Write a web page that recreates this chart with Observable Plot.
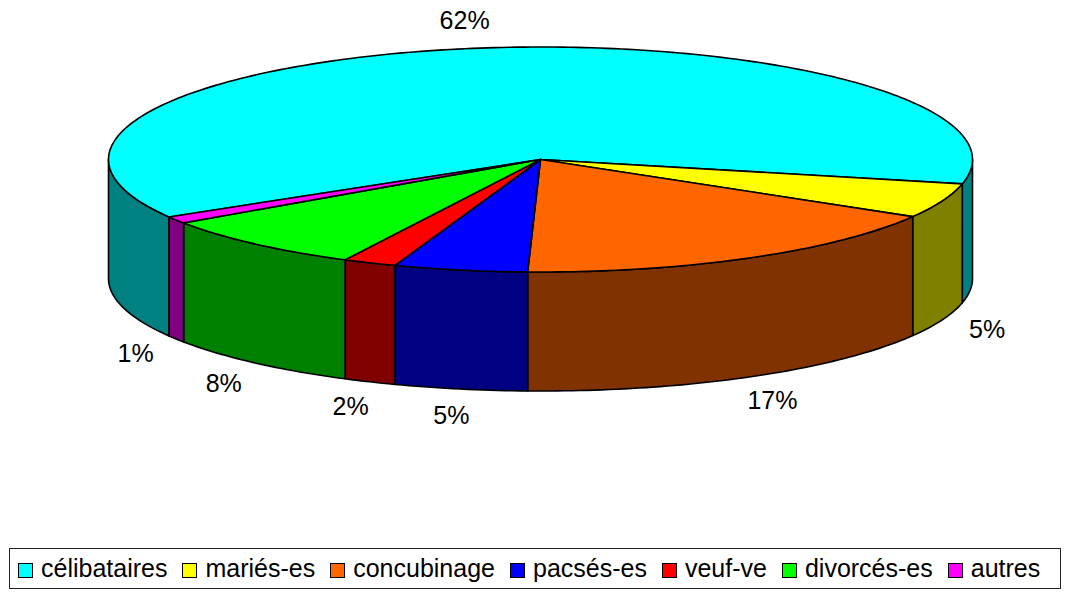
<!DOCTYPE html>
<html>
<head>
<meta charset="utf-8">
<script src="https://cdn.jsdelivr.net/npm/d3@7"></script>
<script src="https://cdn.jsdelivr.net/npm/@observablehq/plot@0.6"></script>
<style>
  html, body { margin: 0; padding: 0; background: #fff; }
  body { width: 1065px; height: 592px; overflow: hidden; font-family: "Liberation Sans", Arial, sans-serif; }
  #chart svg { display: block; }
  #legend {
    position: absolute; left: 9px; top: 548px; width: 1052px; height: 41px;
    border: 1px solid #222; box-sizing: border-box;
    display: flex; align-items: center; padding-left: 8px;
    font-size: 25px; color: #000; white-space: nowrap;
  }
  .item { display: flex; align-items: center; margin-right: 15px; }
  .sw { width: 13px; height: 13px; border: 1px solid #000; margin-right: 8px; margin-top: 3px; }
</style>
</head>
<body>
<div id="chart"></div>
<div id="legend"></div>
<script>
const categories = ["célibataires", "mariés-es", "concubinage", "pacsés-es", "veuf-ve", "divorcés-es", "autres"];
const values = [62, 5, 17, 5, 2, 8, 1];
const labels = ["62%", "5%", "17%", "5%", "2%", "8%", "1%"];
const topColors = ["#00FFFF", "#FFFF00", "#FF6600", "#0000FF", "#FF0000", "#00FF00", "#FF00FF"];
const sideColors = ["#008080", "#808000", "#803300", "#000080", "#800000", "#008000", "#800080"];

// pie geometry (in pixel-sized units relative to the pie centre)
const W = 1065, H = 540;
const CX = 540, CY = 159;
const RX = 432, RY = 112.5, DEPTH = 119;
const START = 149.3; // degrees, clockwise from east on screen
const LRX = 480, LRY = 140;

const total = d3.sum(values);
const rad = d => d * Math.PI / 180;
function arc(a0, a1, dy) {
  const n = Math.max(2, Math.ceil(Math.abs(a1 - a0)));
  const pts = [];
  for (let i = 0; i <= n; i++) {
    const a = rad(a0 + (a1 - a0) * i / n);
    pts.push({x: RX * Math.cos(a), y: RY * Math.sin(a) + dy});
  }
  return pts;
}

const slices = [];
let acc = START;
values.forEach((v, i) => {
  const a0 = acc, a1 = acc + v / total * 360;
  acc = a1;
  slices.push({i, a0, a1, mid: (a0 + a1) / 2});
});

const walls = [];
slices.forEach(s => {
  for (let k = -1; k <= 2; k++) {
    const lo = Math.max(s.a0, k * 360), hi = Math.min(s.a1, k * 360 + 180);
    if (hi > lo) {
      const pts = [...arc(lo, hi, 0), ...arc(hi, lo, DEPTH)];
      pts.push(pts[0]);
      walls.push({i: s.i, pts});
    }
  }
});

const tops = slices.map(s => {
  const pts = [{x: 0, y: 0}, ...arc(s.a0, s.a1, 0), {x: 0, y: 0}];
  return {i: s.i, pts};
});

const labelData = slices.map(s => {
  const a = rad(s.mid);
  const sn = Math.sin(a);
  return {
    x: LRX * Math.cos(a),
    y: LRY * sn + (sn > 0 ? DEPTH : 0),
    text: labels[s.i]
  };
});

const marks = [];
walls.forEach(w => marks.push(Plot.line(w.pts, {x: "x", y: "y", fill: sideColors[w.i], stroke: "#000", strokeWidth: 1.6, strokeLinejoin: "round"})));
tops.forEach(t => marks.push(Plot.line(t.pts, {x: "x", y: "y", fill: topColors[t.i], stroke: "#000", strokeWidth: 1.6, strokeLinejoin: "round"})));
marks.push(Plot.text(labelData, {x: "x", y: "y", text: "text", fontSize: 25, fontFamily: "Liberation Sans, Arial, sans-serif", fill: "#000"}));

const chart = Plot.plot({
  width: W, height: H,
  margin: 0,
  x: {domain: [-CX, W - CX], range: [0, W], axis: null},
  y: {domain: [-CY, H - CY], range: [0, H], axis: null},
  style: {background: "#fff"},
  marks
});
document.getElementById("chart").appendChild(chart);

const legend = document.getElementById("legend");
categories.forEach((c, i) => {
  const item = document.createElement("div");
  item.className = "item";
  const sw = document.createElement("div");
  sw.className = "sw";
  sw.style.background = topColors[i];
  const t = document.createElement("span");
  t.textContent = c;
  item.appendChild(sw);
  item.appendChild(t);
  legend.appendChild(item);
});
</script>
</body>
</html>
